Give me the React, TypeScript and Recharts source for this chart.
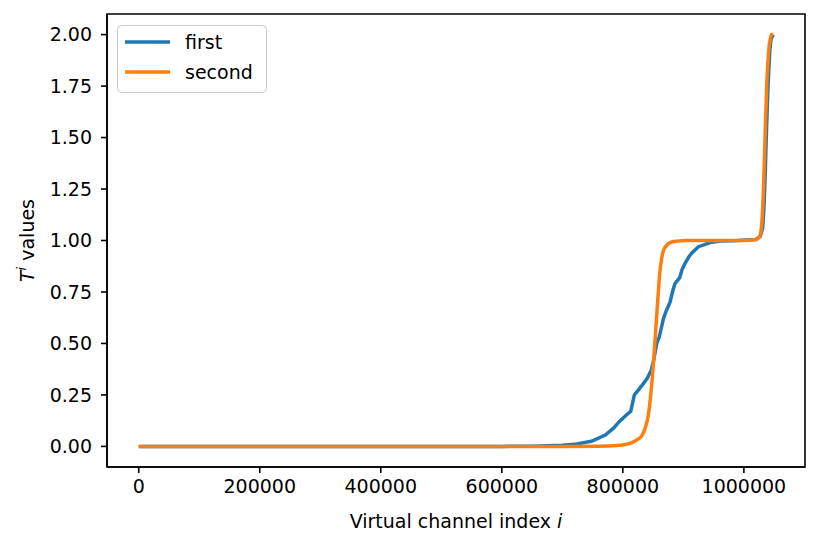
import React from 'react';
import { LineChart, Line, XAxis, YAxis, Legend, ReferenceArea } from 'recharts';

// Curve samples (x = virtual channel index)
const firstX = [
  0, 600000, 650000, 700000, 720000, 748000, 771000, 785000, 794000, 805000,
  813000, 816000, 819000, 830000, 840000, 847000, 851000, 856000, 860000, 867000,
  872000, 878000, 882000, 886000, 894000, 898000, 903000, 909000, 914000, 925000,
  935000, 944000, 961000, 990000, 1020000, 1027000, 1031000, 1033000, 1035000, 1037000,
  1039000, 1041000, 1043000, 1045000, 1048575,
];
const firstY = [
  0, 0, 0.001, 0.006, 0.01, 0.025, 0.055, 0.09, 0.12, 0.15,
  0.17, 0.21, 0.25, 0.29, 0.33, 0.37, 0.42, 0.5, 0.53, 0.62,
  0.66, 0.7, 0.75, 0.79, 0.82, 0.86, 0.89, 0.92, 0.94, 0.97,
  0.98, 0.99, 0.998, 1.0, 1.005, 1.02, 1.06, 1.15, 1.3, 1.5,
  1.68, 1.82, 1.93, 1.98, 2.0,
];

const secondX = [
  0, 700000, 760000, 790000, 805000, 816000, 825000, 831000, 837000, 842000,
  845000, 848000, 851000, 854000, 857000, 861000, 864000, 867000, 872000, 878000,
  890000, 905000, 1000000, 1020000, 1025000, 1028000, 1030000, 1032000, 1034000, 1036000,
  1038000, 1040000, 1042000, 1044000, 1046000, 1048575,
];
const secondY = [
  0, 0, 0.001, 0.004, 0.01, 0.02, 0.035, 0.05, 0.09, 0.15,
  0.22, 0.31, 0.42, 0.55, 0.68, 0.84, 0.91, 0.95, 0.975, 0.99,
  0.997, 1.0, 1.0, 1.005, 1.015, 1.04, 1.1, 1.22, 1.4, 1.6,
  1.77, 1.88, 1.95, 1.985, 2.0, 2.0,
];

const xTicks = [0, 200000, 400000, 600000, 800000, 1000000];
const yTicks = [0, 0.25, 0.5, 0.75, 1.0, 1.25, 1.5, 1.75, 2.0];

const X_DOMAIN: [number, number] = [-52429, 1101004];
const Y_DOMAIN: [number, number] = [-0.1, 2.1];

const firstData = firstX.map((x, i) => ({ x, y: firstY[i] }));
const secondData = secondX.map((x, i) => ({ x, y: secondY[i] }));

const FONT = 'DejaVu Sans, sans-serif';
const FS = 19;
const BLUE = '#1f77b4';
const ORANGE = '#ff7f0e';

const XLabel = (props: any) => {
  const { viewBox } = props;
  const cx = viewBox.x + viewBox.width / 2;
  return (
    <text x={cx} y={528} textAnchor="middle" fontFamily={FONT} fontSize={FS} fill="#000">
      Virtual channel index <tspan fontStyle="italic">i</tspan>
    </text>
  );
};

const YLabel = (props: any) => {
  const { viewBox } = props;
  const cy = viewBox.y + viewBox.height / 2;
  const x = 34;
  return (
    <text
      x={x}
      y={cy}
      transform={`rotate(-90, ${x}, ${cy})`}
      textAnchor="middle"
      fontFamily={FONT}
      fontSize={FS}
      fill="#000"
    >
      <tspan fontStyle="italic">T</tspan>
      <tspan fontStyle="italic" fontSize={13} dy={-8}>i</tspan>
      <tspan dy={8}> values</tspan>
    </text>
  );
};

const LegendBox = () => (
  <svg width={150} height={68} style={{ display: 'block' }}>
    <rect x={0.5} y={0.5} width={149} height={67} rx={4} fill="#fff" fillOpacity={0.8} stroke="#cccccc" />
    <line x1={8} x2={53} y1={17} y2={17} stroke={BLUE} strokeWidth={3.5} />
    <line x1={8} x2={53} y1={47} y2={47} stroke={ORANGE} strokeWidth={3.5} />
    <text x={68} y={24} fontFamily={FONT} fontSize={FS} fill="#000">first</text>
    <text x={68} y={54} fontFamily={FONT} fontSize={FS} fill="#000">second</text>
  </svg>
);

export default function App() {
  const tickStyle = { fontSize: FS, fontFamily: FONT, fill: '#000' };
  return (
    <div style={{ position: 'absolute', left: 0, top: 0, background: '#fff' }}>
      <LineChart width={820} height={545} margin={{ top: 14, right: 15, bottom: 0, left: 0 }}>
        <XAxis
          dataKey="x"
          type="number"
          domain={X_DOMAIN}
          ticks={xTicks}
          allowDataOverflow
          height={78}
          tickSize={6}
          tickMargin={7}
          tick={tickStyle}
          tickFormatter={(v: number) => String(v)}
          axisLine={{ stroke: '#000', strokeWidth: 1.6 }}
          tickLine={{ stroke: '#000', strokeWidth: 1.6 }}
          label={<XLabel />}
        />
        <YAxis
          type="number"
          domain={Y_DOMAIN}
          ticks={yTicks}
          allowDataOverflow
          width={107}
          tickSize={6}
          tickMargin={9}
          tick={tickStyle}
          tickFormatter={(v: number) => v.toFixed(2)}
          axisLine={{ stroke: '#000', strokeWidth: 1.6 }}
          tickLine={{ stroke: '#000', strokeWidth: 1.6 }}
          label={<YLabel />}
        />
        <Legend
          layout="vertical"
          align="center"
          verticalAlign="middle"
          wrapperStyle={{ left: 117, top: 25, width: 150, height: 68 }}
          content={() => <LegendBox />}
        />
        <Line
          data={firstData}
          dataKey="y"
          name="first"
          type="linear"
          stroke={BLUE}
          strokeWidth={3.5}
          dot={false}
          activeDot={false}
          isAnimationActive={false}
        />
        <Line
          data={secondData}
          dataKey="y"
          name="second"
          type="monotone"
          stroke={ORANGE}
          strokeWidth={3.5}
          dot={false}
          activeDot={false}
          isAnimationActive={false}
        />
        {/* frame (top/right spines) */}
        <ReferenceArea
          x1={X_DOMAIN[0]}
          x2={X_DOMAIN[1]}
          y1={Y_DOMAIN[0]}
          y2={Y_DOMAIN[1]}
          fill="none"
          stroke="#000"
          strokeWidth={1.6}
          ifOverflow="visible"
        />
      </LineChart>
    </div>
  );
}
